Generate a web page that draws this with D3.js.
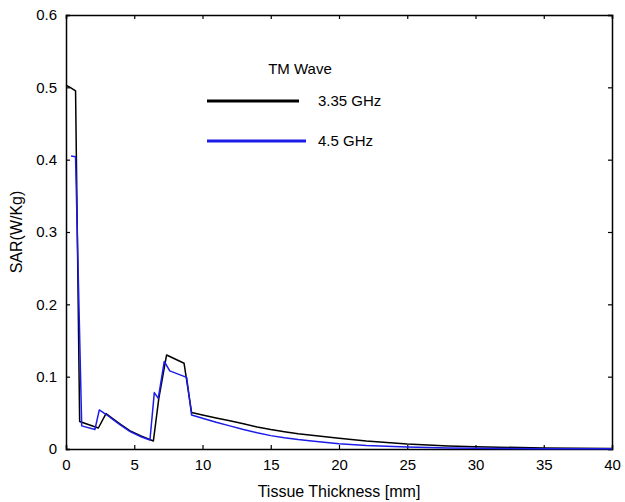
<!DOCTYPE html>
<html>
<head>
<meta charset="utf-8">
<script src="https://cdn.jsdelivr.net/npm/d3@7"></script>
<style>
  body { margin: 0; background: #fff; }
  svg text { font-family: "Liberation Sans", Arial, sans-serif; }
</style>
</head>
<body>
<div id="chart"></div>
<script>
/* DATA */
const thickness335 = [0, 0.3, 0.7, 1.0, 2.37, 2.93, 3.5, 4.0, 4.7, 5.5, 6.4, 6.8, 7.37, 8.65, 9.2, 10, 11, 12, 13, 14, 15, 16, 17, 18, 20, 22, 25, 28, 30, 35, 40];
const sar335 = [0.503, 0.500, 0.495, 0.038, 0.029, 0.049, 0.041, 0.034, 0.025, 0.018, 0.011, 0.07, 0.130, 0.1185, 0.0505, 0.047, 0.043, 0.039, 0.035, 0.0305, 0.027, 0.024, 0.021, 0.019, 0.0147, 0.011, 0.0068, 0.0042, 0.003, 0.0015, 0.0007];

const thickness45 = [0.37, 0.7, 1.15, 2.12, 2.44, 3.0, 3.5, 4.0, 4.7, 5.5, 6.15, 6.47, 6.76, 7.2, 7.6, 8.84, 9.2, 10, 11, 12, 13, 14, 15, 16, 17, 18, 20, 22, 25, 28, 30, 35, 40];
const sar45 = [0.405, 0.404, 0.032, 0.027, 0.054, 0.047, 0.040, 0.033, 0.024, 0.017, 0.0124, 0.078, 0.070, 0.121, 0.108, 0.099, 0.047, 0.0425, 0.037, 0.032, 0.027, 0.0225, 0.0185, 0.0155, 0.013, 0.011, 0.0072, 0.0048, 0.0026, 0.0014, 0.001, 0.0004, 0.0002];

const xTicks = [0, 5, 10, 15, 20, 25, 30, 35, 40];
const yTicks = [0, 0.1, 0.2, 0.3, 0.4, 0.5, 0.6];
const seriesNames = ["3.35 GHz", "4.5 GHz"];
const seriesColors = ["#000000", "#1c1ce8"];

/* LAYOUT */
const width = 625,
  height = 502,
  margin = { top: 15, right: 13, bottom: 53, left: 66 };

const svg = d3.select("#chart")
  .append("svg")
  .attr("width", width)
  .attr("height", height);

const xScale = d3.scaleLinear()
  .domain([0, 40])
  .range([margin.left, width - margin.right]);

const yScale = d3.scaleLinear()
  .domain([0, 0.6])
  .range([height - margin.bottom, margin.top]);

// axes, ticks pointing inwards (matlab style box)
const xAxis = d3.axisBottom(xScale).tickValues(xTicks).tickSize(-4).tickPadding(10).tickFormat(d3.format("d"));
const yAxis = d3.axisLeft(yScale).tickValues(yTicks).tickSize(-4).tickPadding(9).tickFormat(d => d === 0 ? "0" : d3.format(".1f")(d));

svg.append("g")
  .attr("transform", `translate(0,${height - margin.bottom})`)
  .call(xAxis);
svg.append("g")
  .attr("transform", `translate(${margin.left},0)`)
  .call(yAxis);

// top and right mirrored ticks
svg.append("g")
  .attr("transform", `translate(0,${margin.top})`)
  .call(d3.axisTop(xScale).tickValues(xTicks).tickSize(-4).tickFormat(""));
svg.append("g")
  .attr("transform", `translate(${width - margin.right},0)`)
  .call(d3.axisRight(yScale).tickValues(yTicks).tickSize(-4).tickFormat(""));

svg.selectAll(".domain").attr("stroke", "#000").attr("stroke-width", 1.5);
svg.selectAll(".tick line").attr("stroke", "#000").attr("stroke-width", 1.2);
svg.selectAll(".tick text").attr("font-size", 15).attr("fill", "#000")
  .attr("font-family", "'Liberation Sans', Arial, sans-serif");

// axis titles
svg.append("text")
  .attr("x", (margin.left + width - margin.right) / 2)
  .attr("y", 497)
  .attr("text-anchor", "middle")
  .attr("font-size", 16)
  .text("Tissue Thickness [mm]");

svg.append("text")
  .attr("transform", `translate(22,${(margin.top + height - margin.bottom) / 2}) rotate(-90)`)
  .attr("text-anchor", "middle")
  .attr("font-size", 16)
  .text("SAR(W/Kg)");

// lines
const line = d3.line()
  .x(d => xScale(d[0]))
  .y(d => yScale(d[1]));

const series = [
  d3.zip(thickness335, sar335),
  d3.zip(thickness45, sar45)
];

svg.selectAll(".series")
  .data(series)
  .join("path")
  .attr("class", "series")
  .attr("fill", "none")
  .attr("stroke", (d, i) => seriesColors[i])
  .attr("stroke-width", 1.5)
  .attr("stroke-linejoin", "round")
  .attr("d", line);

// legend
const legend = svg.append("g");
legend.append("text")
  .attr("x", 300)
  .attr("y", 74)
  .attr("text-anchor", "middle")
  .attr("font-size", 15)
  .attr("font-family", "Lato, sans-serif")
  .text("TM Wave");

const legendRows = legend.selectAll(".row")
  .data(seriesNames)
  .join("g")
  .attr("class", "row")
  .attr("transform", (d, i) => `translate(0,${101 + i * 40})`);

legendRows.append("line")
  .attr("x1", 207)
  .attr("x2", (d, i) => i === 0 ? 299 : 306)
  .attr("stroke", (d, i) => seriesColors[i])
  .attr("stroke-width", 3);

legendRows.append("text")
  .attr("x", 318)
  .attr("y", 5)
  .attr("font-size", 15)
  .attr("font-family", "Lato, sans-serif")
  .text(d => d);
</script>
</body>
</html>
